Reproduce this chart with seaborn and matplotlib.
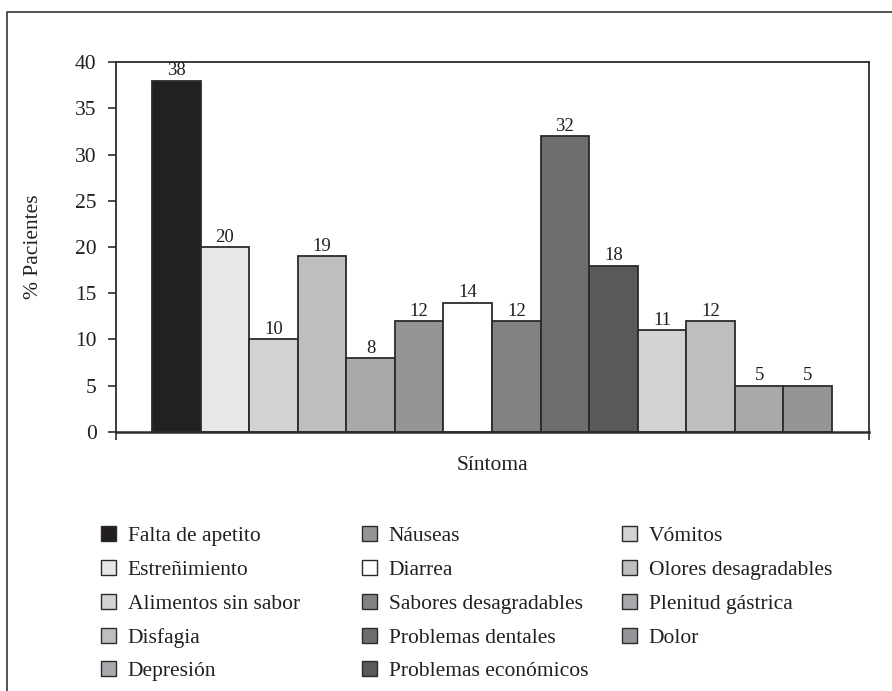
import matplotlib
matplotlib.use("Agg")
import matplotlib.pyplot as plt
from matplotlib.patches import Patch
from matplotlib.lines import Line2D
import seaborn as sns
import pandas as pd

# Symptoms, in bar order
sintomas = [
    "Falta de apetito", "Estreñimiento", "Alimentos sin sabor", "Disfagia",
    "Depresión", "Náuseas", "Diarrea", "Sabores desagradables",
    "Problemas dentales", "Problemas económicos", "Vómitos",
    "Olores desagradables", "Plenitud gástrica", "Dolor",
]
# Percentage of patients reporting each symptom
pacientes = [38, 20, 10, 19, 8, 12, 14, 12, 32, 18, 11, 12, 5, 5]
# Grey fill for each symptom
grises = [
    "#231f20", "#e6e7e8", "#d1d3d4", "#bcbec0", "#a7a9ac", "#939598",
    "#ffffff", "#808285", "#6d6e71", "#58595b", "#d1d3d4", "#bcbec0",
    "#a7a9ac", "#939598",
]
y_ticks = [0, 5, 10, 15, 20, 25, 30, 35, 40]

sns.set_theme(style="white")
plt.rcParams["font.family"] = ["Liberation Serif", "DejaVu Serif"]
plt.rcParams["text.color"] = "#231f20"
plt.rcParams["axes.labelcolor"] = "#231f20"

W, H = 892, 691
fig = plt.figure(figsize=(W / 100, H / 100), dpi=100)
ax = fig.add_axes([116 / W, 1 - 432 / H, (869 - 116) / W, (432 - 62) / H])

df = pd.DataFrame({"Síntoma": sintomas, "Pacientes": pacientes})
edge = "#2b2b2b"
sns.barplot(
    data=df, x="Síntoma", y="Pacientes", hue="Síntoma",
    palette=dict(zip(sintomas, grises)), order=sintomas, hue_order=sintomas,
    dodge=False, width=1.0, edgecolor=edge, linewidth=1.3,
    legend=False, ax=ax,
)

for cont in ax.containers:
    ax.bar_label(cont, fmt="%d", fontsize=13.5, padding=1, color="#231f20")

n = len(sintomas)
x0, x1 = -1.24, n - 1 + 1.26
ax.set_xlim(x0, x1)
ax.set_ylim(0, 40)
ax.set_yticks(y_ticks)
ax.set_xticks([x0, x1])
ax.set_xticklabels(["", ""])
ax.tick_params(axis="y", direction="out", length=6, width=1.2, color=edge,
               labelsize=15.5, pad=8, left=True, labelcolor="#231f20")
ax.tick_params(axis="x", direction="out", length=6, width=1.2, color=edge,
               bottom=True)

for s in ax.spines.values():
    s.set_visible(True)
    s.set_color(edge)
    s.set_linewidth(1.3)
ax.spines["bottom"].set_linewidth(1.8)

ax.set_xlabel("Síntoma", fontsize=15.5)
ax.xaxis.set_label_coords(0.5, -0.066)
ax.set_ylabel("% Pacientes", fontsize=15.5)
ax.yaxis.set_label_coords(-0.097, 0.5)

# Outer frame: left and top edges only
fig.add_artist(Line2D([7 / W, 7 / W, 1.0], [0.0, 1 - 12 / H, 1 - 12 / H],
                      transform=fig.transFigure, color="#444444", lw=1.3))

# Legend laid out in three columns, filled column by column
handles = [Patch(facecolor=c, edgecolor=edge, linewidth=1.0) for c in grises]
col_x = [101, 362, 622]
groups = [range(0, 5), range(5, 10), range(10, 14)]
for cx, g in zip(col_x, groups):
    fig.legend(
        [handles[i] for i in g], [sintomas[i] for i in g],
        loc="upper left", bbox_to_anchor=(cx / W, 1 - 526 / H),
        frameon=False, fontsize=15.5, handlelength=0.7, handleheight=0.7,
        handletextpad=0.55, labelspacing=0.64, borderpad=0, borderaxespad=0,
    )

fig.savefig("out.png", dpi=100, facecolor="white")
